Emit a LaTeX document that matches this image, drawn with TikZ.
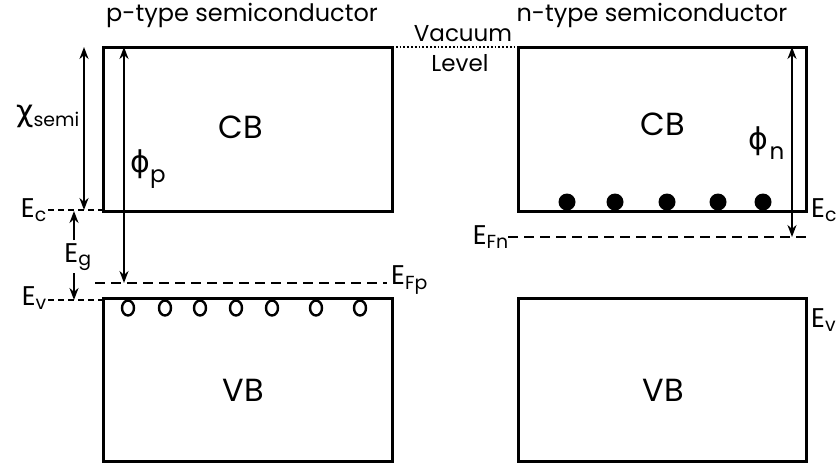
\documentclass[tikz,border=0pt]{standalone}
\usepackage{fontspec}
\setmainfont{Poppins}
\newfontfamily\grk{DejaVu Sans}
\usetikzlibrary{arrows.meta}
\newcommand{\gsym}[1]{{\grk\fontsize{30}{32}\selectfont #1}}
\begin{document}
\begin{tikzpicture}[x=1pt,y=-1pt,
 band/.style={draw, line width=3pt, inner sep=0pt, outer sep=0pt},
 lvl/.style={line width=2.5pt, dash pattern=on 10pt off 6pt},
 slvl/.style={line width=1.8pt, dash pattern=on 6pt off 4pt},
 darr/.style={line width=2.2pt, {Stealth[length=12pt,width=9pt]}-{Stealth[length=12pt,width=9pt]}},
 arr/.style={line width=2.2pt, -{Stealth[length=12pt,width=9pt]}},
 big/.style={font=\fontsize{32}{34}\selectfont, inner sep=0pt},
 ttl/.style={font=\fontsize{24}{26}\selectfont, inner sep=0pt},
 lbl/.style={font=\fontsize{27}{30}\selectfont, inner sep=0pt},
 sml/.style={font=\fontsize{23}{26}\selectfont, inner sep=0pt},
 ]
\useasboundingbox (0,0) rectangle (839,463);
% bands
\node[band, minimum width=289pt, minimum height=164pt] (pcb) at (247.5,129) {};
\node[band, minimum width=289pt, minimum height=163pt] (pvb) at (247.5,379.5) {};
\node[band, minimum width=288pt, minimum height=164pt] (ncb) at (662,129) {};
\node[band, minimum width=288pt, minimum height=163pt] (nvb) at (662,379.5) {};
\node[big] (pcbt) at (241,127) {CB};
\node[big] (pvbt) at (243,390) {VB};
\node[big] (ncbt) at (663,124) {CB};
\node[big] (nvbt) at (663,390) {VB};
% titles
\node[ttl] (pt) at (242,15) {p-type semiconductor};
\node[ttl] (nt) at (652,15) {n-type semiconductor};
% vacuum level
\draw[line width=1.8pt, dotted] (pcb.north east) -- (ncb.north west);
\node[sml] (vac) at (463,34) {Vacuum};
\node[sml] (lev) at (460,63) {Level};
% level coordinates
\coordinate (ecl1) at (48,210);
\coordinate (ecl2) at (102,210);
\coordinate (evl1) at (48,300);
\coordinate (evl2) at (102,300);
\coordinate (efp1) at (95,283);
\coordinate (efp2) at (387,283);
\coordinate (efn1) at (508,237);
\coordinate (efn2) at (808,237);
\draw[slvl] (ecl1) -- (ecl2);
\draw[slvl] (evl1) -- (evl2);
\draw[lvl] (efp1) -- (efp2);
\draw[lvl] (efn1) -- (efn2);
% arrows
\coordinate (chit) at (84,47);
\coordinate (chib) at (84,210);
\draw[darr] (chib) -- (chit);
\coordinate (phpt) at (124,47);
\coordinate (phpb) at (124,283);
\draw[darr] (phpb) -- (phpt);
\coordinate (phnt) at (792,47);
\coordinate (phnb) at (792,237);
\draw[darr] (phnb) -- (phnt);
\coordinate (eg1) at (74,240);
\coordinate (eg2) at (74,211);
\coordinate (eg3) at (74,273);
\coordinate (eg4) at (74,300);
\draw[arr] (eg1) -- (eg2);
\draw[arr] (eg3) -- (eg4);
% labels
\node[lbl, anchor=east] (ecl) at (47,210) {E\textsubscript{c}};
\node[lbl, anchor=east] (evl) at (47,298) {E\textsubscript{v}};
\node[lbl] (egl) at (78,257) {E\textsubscript{g}};
\node[lbl, anchor=west] (efpl) at (391,280) {E\textsubscript{Fp}};
\node[lbl, anchor=east] (efnl) at (509,237) {E\textsubscript{Fn}};
\node[lbl, anchor=west] (ecr) at (811,210) {E\textsubscript{c}};
\node[lbl, anchor=west] (evr) at (811,320) {E\textsubscript{v}};
\node[lbl, anchor=east] (chil) at (80,116) {\gsym{χ}\textsubscript{semi}};
\node[lbl] (phpl) at (140,164) {\gsym{ϕ}};
\node[sml] (phps) at (158,179) {p};
\node[lbl] (phnl) at (758,141) {\gsym{ϕ}};
\node[sml] (phns) at (777,153) {n};
% holes
\foreach \hx in {128,165,200,236,272,316,360}
  \draw[line width=2.4pt] (\hx,308) ellipse [x radius=6pt, y radius=7.5pt];
% electrons
\foreach \ex in {567,615,667,718,763}
  \fill (\ex,202) circle [radius=8.5pt];
\end{tikzpicture}
\end{document}
